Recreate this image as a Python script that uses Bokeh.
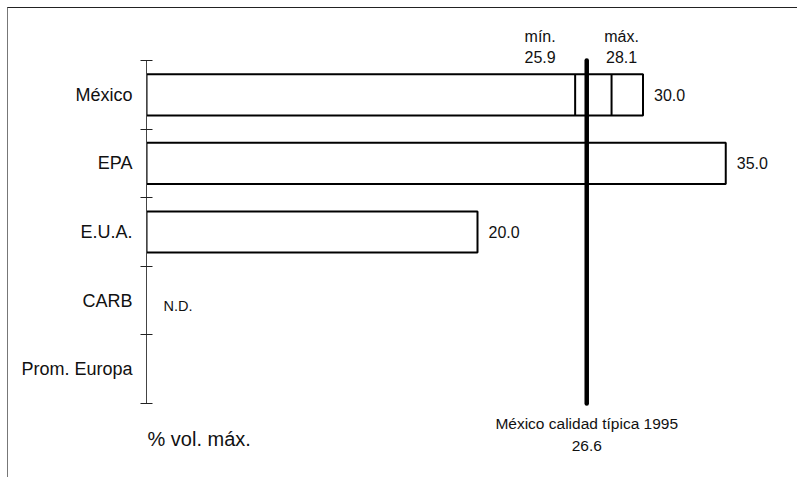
from bokeh.plotting import figure
from bokeh.models import Range1d, FixedTicker, Label, ColumnDataSource
from bokeh.core.properties import value
from bokeh.embed import file_html
from bokeh.resources import INLINE

# ---- data ----
categories = ["México", "EPA", "E.U.A.", "CARB", "Prom. Europa"]
max_values = [30.0, 35.0, 20.0, None, None]
missing_label = "N.D."
missing_category = "CARB"
mexico_min = 25.9
mexico_max = 28.1
typical_1995 = 26.6
unit_label = "% vol. máx."
typical_label = "México calidad típica 1995"
min_label = "mín."
max_label = "máx."

# ---- layout ----
FONT = "Liberation Sans"
W, H = 790, 470
ORIGIN = 8                     # page pixel of canvas origin (margin + border)
frame_left = 146 - ORIGIN
px_per_unit = 16.55
x_end = (W - frame_left) / px_per_unit
top_b, bot_b = 2, 2
frame_h = H - top_b - bot_b
row_px = 68.6
first_boundary = (60 - ORIGIN) - top_b
y_top = -0.5 - first_boundary / row_px
y_bottom = y_top + frame_h / row_px

n = len(categories)
centers = list(range(n))
boundaries = [c - 0.5 for c in centers] + [n - 0.5]

p = figure(width=W, height=H, output_backend="svg", toolbar_location=None,
           x_range=Range1d(0, x_end), y_range=Range1d(y_bottom, y_top),
           x_axis_location=None, y_axis_location="left",
           min_border_left=frame_left, min_border_right=0,
           min_border_top=top_b, min_border_bottom=bot_b)
p.styles = {"margin-left": "7px", "margin-top": "7px",
            "border-top": "1px solid #222", "border-left": "1px solid #777"}
p.outline_line_color = None
p.xgrid.visible = False
p.ygrid.visible = False
p.background_fill_color = "white"
p.border_fill_color = "white"

ax = p.yaxis[0]
ax.ticker = FixedTicker(ticks=centers, minor_ticks=boundaries)
ax.major_label_overrides = {c: cat for c, cat in zip(centers, categories)}
ax.bounds = (boundaries[0], boundaries[-1])
ax.major_tick_line_color = None
ax.major_tick_in = 0
ax.major_tick_out = 0
ax.minor_tick_in = 6
ax.minor_tick_out = 6
ax.minor_tick_line_color = "#222"
ax.axis_line_color = "#444"
ax.major_label_standoff = 8
ax.major_label_text_font = FONT
ax.major_label_text_font_size = "18px"
ax.major_label_text_color = "#111"

# bars
bar_y = [centers[i] for i, v in enumerate(max_values) if v is not None]
bar_v = [v for v in max_values if v is not None]
src = ColumnDataSource(dict(y=bar_y, right=bar_v,
                            lab=["%.1f" % v for v in bar_v]))
bar_h = 0.6
p.hbar(y="y", left=0, right="right", height=bar_h, source=src,
       fill_color="white", line_color="black", line_width=2)
p.text(x="right", y="y", text="lab", source=src, x_offset=11,
       text_font=value(FONT), text_font_size="16px", text_color="#111",
       text_baseline="middle", text_align="left")

# México min / max markers
mx = centers[categories.index("México")]
p.segment(x0=[mexico_min, mexico_max], x1=[mexico_min, mexico_max],
          y0=[mx - bar_h / 2] * 2, y1=[mx + bar_h / 2] * 2,
          line_color="black", line_width=2)
p.text(x=[mexico_min, mexico_min], y=[boundaries[0]] * 2,
       text=[min_label, "%.1f" % mexico_min], x_offset=[-35, -35], y_offset=[-24, -4],
       text_font=value(FONT), text_font_size="16px", text_color="#111",
       text_baseline="middle", text_align="center")
p.text(x=[mexico_max, mexico_max], y=[boundaries[0]] * 2,
       text=[max_label, "%.1f" % mexico_max], x_offset=[10, 10], y_offset=[-24, -4],
       text_font=value(FONT), text_font_size="16px", text_color="#111",
       text_baseline="middle", text_align="center")

# typical quality line
p.segment(x0=[typical_1995], x1=[typical_1995], y0=[boundaries[0]], y1=[boundaries[-1]],
          line_color="black", line_width=4.5, line_cap="round")
p.text(x=[typical_1995] * 2, y=[boundaries[-1]] * 2,
       text=[typical_label, "%.1f" % typical_1995], y_offset=[20, 42],
       text_font=value(FONT), text_font_size="15.5px", text_color="#111",
       text_baseline="middle", text_align="center")

# N.D.
nd = centers[categories.index(missing_category)]
p.text(x=[0], y=[nd], text=[missing_label], x_offset=17, y_offset=5,
       text_font=value(FONT), text_font_size="14.5px", text_color="#111",
       text_baseline="middle", text_align="left")

# unit label
p.add_layout(Label(x=0, y=boundaries[-1], text=unit_label, x_offset=1, y_offset=-35,
                   text_font=FONT, text_font_size="20px", text_color="#111",
                   text_baseline="middle", text_align="left"))

open("out.html", "w").write(file_html(p, INLINE))
